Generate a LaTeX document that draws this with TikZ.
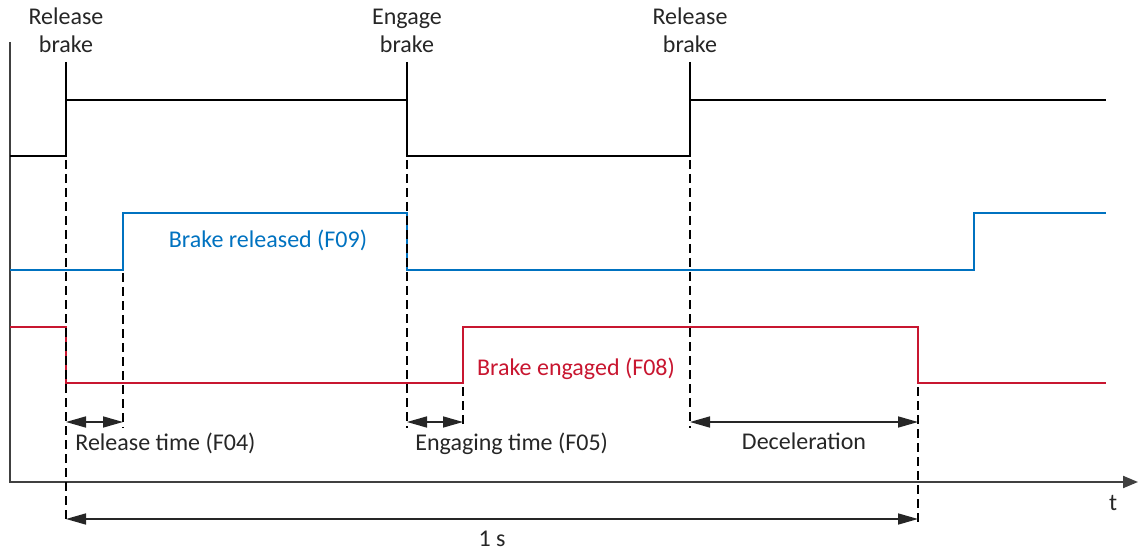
\documentclass[tikz,border=0pt]{standalone}
\usepackage{fontspec}
\setmainfont{Carlito}
\usetikzlibrary{arrows.meta, positioning}
\definecolor{sigblue}{RGB}{0,114,192}
\definecolor{sigred}{RGB}{200,22,48}
\definecolor{txtgray}{RGB}{38,38,38}
\definecolor{axisgray}{RGB}{64,64,64}

\begin{document}
\begin{tikzpicture}[
    x=0.5pt, y=-0.5pt,
    lbl/.style={
      inner sep=0pt,
      text=txtgray,
      font=\fontsize{12}{14}\selectfont
    },
    signal/.style={line width=1.15pt, line join=miter},
    marker/.style={line width=0.6pt, black},
    guide/.style={line width=0.6pt, black, dash pattern=on 4.5pt off 2.5pt},
    span/.style={{Triangle[length=10pt,width=5.5pt]}-{Triangle[length=10pt,width=5.5pt]}, line width=0.8pt, txtgray},
    axis/.style={-{Triangle[length=7.5pt,width=6pt]}, line width=1pt, axisgray}
  ]
    \useasboundingbox (0,0) rectangle (1138,550);

    % axes
    \coordinate (ytop) at (10,42);
    \coordinate (tend) at (1138,482);
    \draw[axis] (ytop) |- (tend);
    \node[lbl, anchor=base] (tlbl) at (1113,510) {t};

    % event labels
    \node[lbl, align=center, anchor=base] (rel1) at (66,53) {Release\\brake};
    \node[lbl, align=center, anchor=base] (eng) at (407,53) {Engage\\brake};
    \node[lbl, align=center, anchor=base] (rel2) at (690,53) {Release\\brake};

    % event markers
    \coordinate (rel1top) at (66,62);
    \coordinate (engtop) at (407,62);
    \coordinate (rel2top) at (690,62);
    \draw[marker] (rel1top) -- (66,100);
    \draw[marker] (engtop) -- (407,100);
    \draw[marker] (rel2top) -- (690,100);

    % control signal
    \draw[signal] (10,156) -- (66,156) -- (66,100) -- (407,100) -- (407,156)
      -- (690,156) -- (690,100) -- (1106,100);

    % brake released (F09)
    \draw[signal, sigblue, line width=1.4pt] (10,270) -- (123,270) -- (123,213) -- (407,213)
      -- (407,270) -- (974,270) -- (974,213) -- (1106,213);
    \node[lbl, text=sigblue, anchor=base] (f09) at (268,248) {Brake released (F09)};

    % brake engaged (F08)
    \draw[signal, sigred, line width=1.4pt] (10,327) -- (66,327) -- (66,383) -- (463,383)
      -- (463,327) -- (918,327) -- (918,383) -- (1106,383);
    \node[lbl, text=sigred, anchor=base] (f08) at (576,375) {Brake engaged (F08)};

    % guides
    \coordinate (g1) at (66,523);
    \coordinate (g2) at (123,428);
    \coordinate (g3) at (407,428);
    \coordinate (g4) at (463,428);
    \coordinate (g5) at (690,428);
    \coordinate (g6) at (918,523);
    \draw[guide] (66,160) -- (g1);
    \draw[guide] (123,273) -- (g2);
    \draw[guide] (407,160) -- (g3);
    \draw[guide] (463,387) -- (g4);
    \draw[guide] (690,160) -- (g5);
    \draw[guide] (918,387) -- (g6);

    % time spans
    \coordinate (a1) at (66,422);
    \coordinate (b1) at (123,422);
    \coordinate (a2) at (407,422);
    \coordinate (b2) at (463,422);
    \coordinate (a3) at (690,422);
    \coordinate (b3) at (918,422);
    \coordinate (a4) at (66,519);
    \coordinate (b4) at (918,519);
    \draw[span] (a1) -- (b1);
    \draw[span] (a2) -- (b2);
    \draw[span] (a3) -- (b3);
    \draw[span] (a4) -- (b4);

    \node[lbl, anchor=base west] (f04) at (75,450) {Release time (F04)};
    \node[lbl, anchor=base west] (f05) at (415,450) {Engaging time (F05)};
    \node[lbl, anchor=base] (decel) at (804,449) {Deceleration};
    \node[lbl, anchor=base] (onesec) at (492,546) {1 s};
  \end{tikzpicture}
\end{document}
